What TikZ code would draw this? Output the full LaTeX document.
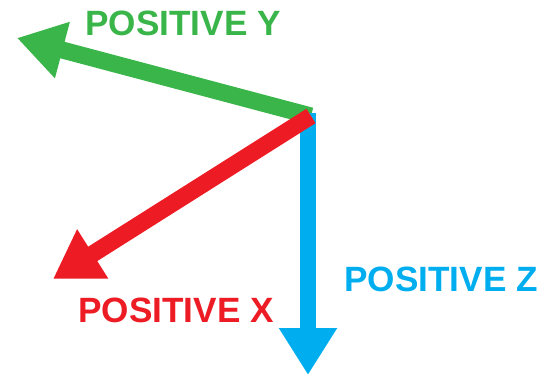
\documentclass[tikz,border=0pt]{standalone}
\usepackage{fontspec}
\setmainfont{Liberation Sans}
\usetikzlibrary{arrows.meta}
\definecolor{axisx}{RGB}{237,28,36}
\definecolor{axisy}{RGB}{57,181,74}
\definecolor{axisz}{RGB}{0,174,239}
\begin{document}
\begin{tikzpicture}[x=0.02cm, y=-0.02cm,
    axis/.style={line width=0.34cm,
                 -{Triangle[length=0.94cm, width=1.1cm]}},
    lbl/.style={font=\fontsize{20}{20}\selectfont\bfseries, inner sep=0pt}]

\useasboundingbox (0,0) rectangle (545,377);

%% Origin and axis tips
\coordinate (o)    at (311,116);
\coordinate (ytip) at (17,38);
\coordinate (xtip) at (53,279);
\coordinate (ztip) at (308,375);

%% Axes
\draw[axis, axisy] (o) -- (ytip);
\draw[axis, axisz] (308,113) coordinate (ztop) -- (ztip);
\draw[axis, axisx] (o) -- (xtip);

%% Labels
\node[lbl, text=axisy] (ylbl) at (183,23)  {POSITIVE Y};
\node[lbl, text=axisx] (xlbl) at (176,310) {POSITIVE X};
\node[lbl, text=axisz] (zlbl) at (441,279) {POSITIVE Z};

\end{tikzpicture}
\end{document}
